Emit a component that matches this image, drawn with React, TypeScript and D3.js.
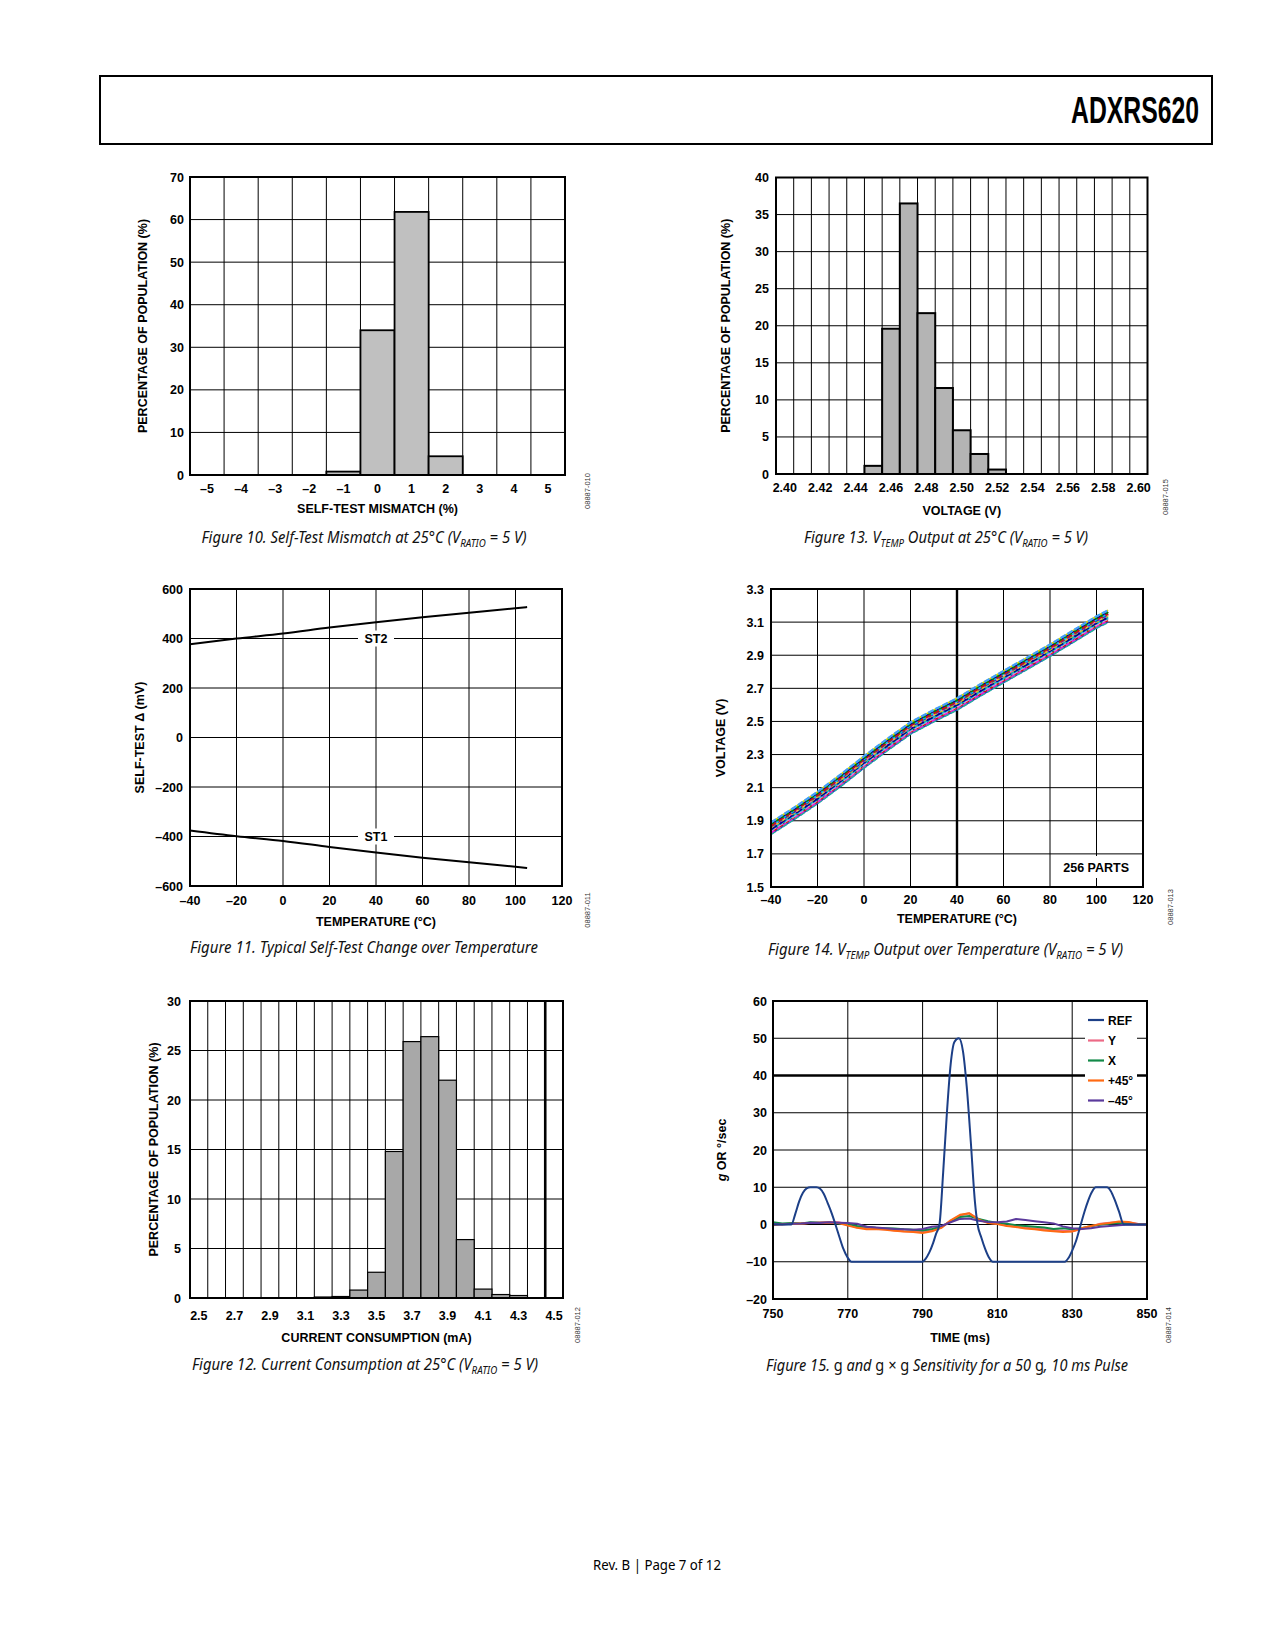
import * as d3 from 'd3'

const AX_FONT = "'Liberation Sans', Arial, Helvetica, sans-serif"
const CAP_FONT = "'Noto Sans', 'Open Sans', sans-serif"

// Figure 10: self-test mismatch histogram
const mismatchBins = [-5, -4, -3, -2, -1, 0, 1, 2, 3, 4, 5]
const mismatchPct = [0, 0, 0, 0, 0.8, 34, 61.8, 4.4, 0, 0, 0]
const mismatchYTicks = [0, 10, 20, 30, 40, 50, 60, 70]

// Figure 13: VTEMP output histogram
const vtempBins = [2.4, 2.41, 2.42, 2.43, 2.44, 2.45, 2.46, 2.47, 2.48, 2.49, 2.5, 2.51, 2.52, 2.53, 2.54, 2.55, 2.56, 2.57, 2.58, 2.59, 2.6]
const vtempPct = [0, 0, 0, 0, 0, 1.1, 19.6, 36.5, 21.7, 11.6, 5.9, 2.7, 0.6, 0, 0, 0, 0, 0, 0, 0, 0]
const vtempXTicks = [2.4, 2.42, 2.44, 2.46, 2.48, 2.5, 2.52, 2.54, 2.56, 2.58, 2.6]
const vtempYTicks = [0, 5, 10, 15, 20, 25, 30, 35, 40]

// Figure 12: current consumption histogram
const currentBins = [2.5, 2.6, 2.7, 2.8, 2.9, 3.0, 3.1, 3.2, 3.3, 3.4, 3.5, 3.6, 3.7, 3.8, 3.9, 4.0, 4.1, 4.2, 4.3, 4.4, 4.5]
const currentPct = [0, 0, 0, 0, 0, 0, 0, 0.1, 0.15, 0.8, 2.6, 14.8, 25.9, 26.4, 22.0, 5.9, 0.9, 0.35, 0.25, 0, 0]
const currentXTicks = [2.5, 2.7, 2.9, 3.1, 3.3, 3.5, 3.7, 3.9, 4.1, 4.3, 4.5]
const currentYTicks = [0, 5, 10, 15, 20, 25, 30]

// Figure 11: self-test change over temperature
const stTemps = [-40, -20, 0, 20, 40, 60, 80, 100, 105]
const st2 = [377, 400, 420, 444, 466, 486, 504, 522, 527]
const st1 = [-376, -399, -418, -442, -465, -486, -504, -522, -527]
const stXTicks = [-40, -20, 0, 20, 40, 60, 80, 100, 120]
const stYTicks = [-600, -400, -200, 0, 200, 400, 600]

// Figure 14: VTEMP over temperature (a handful of the 256 parts)
const partTemps = [-40, -30, -20, -10, 0, 10, 20, 30, 40, 50, 60, 70, 80, 90, 100, 105]
const partA = [1.89, 1.98, 2.075, 2.18, 2.29, 2.395, 2.495, 2.57, 2.64, 2.725, 2.805, 2.885, 2.965, 3.05, 3.135, 3.172]
const partB = [1.881, 1.969, 2.066, 2.171, 2.279, 2.386, 2.484, 2.561, 2.629, 2.716, 2.794, 2.876, 2.955, 3.041, 3.124, 3.161]
const partC = [1.869, 1.961, 2.054, 2.16, 2.271, 2.374, 2.476, 2.549, 2.621, 2.704, 2.786, 2.864, 2.946, 3.029, 3.116, 3.15]
const partD = [1.861, 1.949, 2.046, 2.149, 2.259, 2.366, 2.464, 2.541, 2.609, 2.696, 2.774, 2.856, 2.934, 3.021, 3.104, 3.141]
const partE = [1.849, 1.941, 2.034, 2.141, 2.251, 2.354, 2.456, 2.529, 2.601, 2.684, 2.766, 2.844, 2.926, 3.009, 3.096, 3.129]
const partF = [1.841, 1.929, 2.026, 2.129, 2.239, 2.346, 2.444, 2.521, 2.589, 2.676, 2.754, 2.836, 2.914, 3.001, 3.084, 3.121]
const partG = [1.829, 1.921, 2.014, 2.121, 2.231, 2.334, 2.436, 2.509, 2.581, 2.664, 2.746, 2.824, 2.906, 2.989, 3.076, 3.109]
const partH = [1.82, 1.91, 2.005, 2.11, 2.22, 2.325, 2.425, 2.5, 2.57, 2.655, 2.735, 2.815, 2.895, 2.98, 3.065, 3.1]
const partI = [1.866, 1.954, 2.051, 2.156, 2.264, 2.371, 2.469, 2.546, 2.616, 2.701, 2.779, 2.861, 2.941, 3.026, 3.109, 3.146]
const partJ = [1.846, 1.934, 2.031, 2.134, 2.246, 2.349, 2.451, 2.524, 2.596, 2.679, 2.761, 2.839, 2.921, 3.004, 3.091, 3.126]
const partColors = ['#1f3fc0', '#d01010', '#008000', '#40a0ff', '#20b0a0', '#e020e0', '#ff90c0', '#00c8e8', '#000090', '#d8d800']
const partDashes = ['5 2', '4 3', '6 2', '3 2', '7 3', '4 2', '5 3', '6 3', '3 3', '6 2']
const tempXTicks = [-40, -20, 0, 20, 40, 60, 80, 100, 120]
const voltYTicks = [1.5, 1.7, 1.9, 2.1, 2.3, 2.5, 2.7, 2.9, 3.1, 3.3]

// Figure 15: g and g x g sensitivity
const refTime = [750, 754.9, 756, 757, 758, 759, 760, 761.6, 762.6, 763.6, 764.6, 765.7, 766.7, 767.8, 768.8, 769.9, 771, 789.8, 790.8, 791.8, 792.8, 793.6, 794.5, 795.5, 796.5, 797.5, 798.5, 799.7, 800.8, 801.8, 802.9, 804, 804.7, 805.7, 806.7, 807.7, 808.8, 828, 829, 830, 831, 832.3, 833.3, 834.3, 835.3, 836.3, 839.3, 840.3, 841.3, 842.5, 843.8, 850]
const refG = [0, 0, 3, 6.2, 8.5, 9.7, 10, 10, 9.6, 8.2, 5.8, 3, 0, -3.5, -6.5, -8.8, -10, -10, -9.2, -7.5, -5, -2.5, 0, 14, 30, 43, 49, 50, 46.5, 37, 22, 6, 0, -3.5, -6.5, -8.8, -10, -10, -9, -7, -4.5, 0, 3.5, 6.5, 8.8, 10, 10, 9, 6.8, 3.5, 0, 0]
const sigTime = [750, 752.5, 755, 757.5, 760, 762.5, 765, 767.5, 770, 772.5, 775, 777.5, 780, 782.5, 785, 787.5, 790, 792.5, 795, 797.5, 800, 802.5, 805, 807.5, 810, 812.5, 815, 817.5, 820, 822.5, 825, 827.5, 830, 832.5, 835, 837.5, 840, 842.5, 845, 847.5, 850]
const yAxisG = [0.2, 0.1, 0.3, 0.2, 0.5, 0.6, 0.7, 0.6, 0, -0.8, -1.0, -1.2, -1.3, -1.6, -1.8, -1.9, -2.0, -1.6, -0.8, 1.0, 2.4, 3.0, 1.4, 0.5, 0.2, -0.3, -0.6, -0.9, -1.1, -1.3, -1.5, -1.7, -1.8, -1.2, -0.5, 0.2, 0.5, 0.7, 0.6, 0.2, 0.0]
const xAxisG = [0.6, 0.3, 0.4, 0.3, 0.6, 0.5, 0.5, 0.3, 0.2, -0.4, -0.6, -0.9, -1.0, -1.1, -1.3, -1.4, -1.6, -1.2, -0.6, 0.8, 2.0, 2.3, 1.5, 0.9, 0.4, 0.2, -0.2, -0.4, -0.6, -0.8, -1.2, -1.0, -1.3, -1.0, -0.4, -0.1, 0.2, 0.5, 0.3, 0.1, 0.0]
const plus45G = [-0.2, 0.1, 0.2, 0.3, 0.4, 0.4, 0.5, 0.4, -0.3, -0.9, -1.3, -1.2, -1.4, -1.7, -1.9, -2.0, -2.3, -1.8, -0.9, 1.1, 2.6, 3.0, 1.3, 0.4, 0.1, -0.4, -0.7, -1.1, -1.3, -1.6, -1.8, -2.0, -1.9, -1.0, -0.4, 0.1, 0.4, 0.8, 0.7, 0.1, 0.0]
const minus45G = [0.1, 0.0, 0.2, 0.3, 0.5, 0.4, 0.6, 0.5, 0.4, 0.2, -0.6, -0.8, -1.0, -1.2, -1.3, -1.4, -1.2, -0.6, -0.4, 0.6, 1.5, 1.6, 1.0, 0.7, 0.6, 0.8, 1.5, 1.2, 0.9, 0.6, 0.3, -0.5, -1.0, -1.2, -1.0, -0.6, -0.4, -0.2, 0.0, -0.1, 0.0]
const legendNames = ['REF', 'Y', 'X', '+45°', '–45°']
const legendColors = ['#1c3f87', '#ec6a86', '#138a48', '#ff6a13', '#5b3a9c']
const timeXTicks = [750, 770, 790, 810, 830, 850]
const gYTicks = [-20, -10, 0, 10, 20, 30, 40, 50, 60]

type Box = { l: number; r: number; t: number; b: number }

const TICK = 12.5
const TITLE = 12.5
const neg = (v: number) => (v < 0 ? '–' + Math.abs(v) : String(v))

function Frame({ box, xTitle, yTitle, xTitleY, yTitleX, code, codeX, codeY }: {
  box: Box; xTitle: React.ReactNode; yTitle: React.ReactNode; xTitleY: number; yTitleX: number
  code: string; codeX: number; codeY: number
}) {
  const cy = (box.t + box.b) / 2
  return (
    <g fontFamily={AX_FONT}>
      <rect x={box.l} y={box.t} width={box.r - box.l} height={box.b - box.t} fill="none" stroke="#000" strokeWidth={2} />
      <text x={(box.l + box.r) / 2} y={xTitleY} textAnchor="middle" fontSize={TITLE} fontWeight="bold">{xTitle}</text>
      <text transform={`translate(${yTitleX},${cy}) rotate(-90)`} textAnchor="middle" dominantBaseline="central" fontSize={TITLE} fontWeight="bold">{yTitle}</text>
      <text transform={`translate(${codeX},${codeY}) rotate(-90)`} textAnchor="middle" dominantBaseline="central" fontSize={7.5} fill="#333">{code}</text>
    </g>
  )
}

function TickLabels({ box, x, y, xTicks, yTicks, fx, fy, xDy, yGap }: {
  box: Box; x: (v: number) => number; y: (v: number) => number; xTicks: number[]; yTicks: number[]
  fx: (v: number) => string; fy: (v: number) => string; xDy: number; yGap: number
}) {
  return (
    <g fontFamily={AX_FONT} fontSize={TICK} fontWeight="bold">
      {xTicks.map(v => <text key={'x' + v} x={x(v)} y={box.b + xDy} textAnchor="middle">{fx(v)}</text>)}
      {yTicks.map(v => <text key={'y' + v} x={box.l - yGap} y={y(v) + 4.5} textAnchor="end">{fy(v)}</text>)}
    </g>
  )
}

function Histogram({ box, bins, values, binW, xTicks, yTicks, fx, fill, barStroke, thickEdge, xDy, yGap }: {
  box: Box; bins: number[]; values: number[]; binW: number; xTicks: number[]; yTicks: number[]
  fx: (v: number) => string; fill: string; barStroke: number; thickEdge?: number; xDy: number; yGap: number
}) {
  const x = d3.scaleLinear().domain([bins[0] - binW / 2, bins[bins.length - 1] + binW / 2]).range([box.l, box.r])
  const y = d3.scaleLinear().domain([yTicks[0], yTicks[yTicks.length - 1]]).range([box.b, box.t])
  const edges = bins.slice(0, -1).map(b => b + binW / 2)
  return (
    <g>
      {yTicks.slice(1, -1).map(v => (
        <line key={'h' + v} x1={box.l} x2={box.r} y1={y(v)} y2={y(v)} stroke="#000" strokeWidth={1} />
      ))}
      {edges.map((e, i) => (
        <line key={'v' + i} x1={x(e)} x2={x(e)} y1={box.t} y2={box.b} stroke="#000"
          strokeWidth={thickEdge !== undefined && Math.abs(e - thickEdge) < 1e-6 ? 2.6 : 1} />
      ))}
      {bins.map((b, i) =>
        values[i] > 0 ? (
          <rect key={'b' + i} x={x(b - binW / 2)} y={y(values[i])} width={x(b + binW / 2) - x(b - binW / 2)}
            height={y(0) - y(values[i])} fill={fill} stroke="#000" strokeWidth={barStroke} />
        ) : null
      )}
      <TickLabels box={box} x={x} y={y} xTicks={xTicks} yTicks={yTicks} fx={fx} fy={String} xDy={xDy} yGap={yGap} />
    </g>
  )
}

function SelfTestChart({ box }: { box: Box }) {
  const x = d3.scaleLinear().domain([-40, 120]).range([box.l, box.r])
  const y = d3.scaleLinear().domain([-600, 600]).range([box.b, box.t])
  const line = d3.line<number>().x((_, i) => x(stTemps[i])).y(d => y(d)).curve(d3.curveMonotoneX)
  const tags: [string, number][] = [['ST2', 400], ['ST1', -400]]
  return (
    <g>
      {stYTicks.slice(1, -1).map(v => <line key={'h' + v} x1={box.l} x2={box.r} y1={y(v)} y2={y(v)} stroke="#000" />)}
      {stXTicks.slice(1, -1).map(v => <line key={'v' + v} x1={x(v)} x2={x(v)} y1={box.t} y2={box.b} stroke="#000" />)}
      {tags.map(([t, v]) => (
        <g key={t}>
          <rect x={x(40) - 18} y={y(v) - 8} width={36} height={16} fill="#fff" />
          <text x={x(40)} y={y(v) + 4.5} textAnchor="middle" fontFamily={AX_FONT} fontSize={12.5} fontWeight="bold">{t}</text>
        </g>
      ))}
      <path d={line(st2) ?? ''} fill="none" stroke="#000" strokeWidth={2} />
      <path d={line(st1) ?? ''} fill="none" stroke="#000" strokeWidth={2} />
      <TickLabels box={box} x={x} y={y} xTicks={stXTicks} yTicks={stYTicks} fx={neg} fy={neg} xDy={18.5} yGap={7} />
    </g>
  )
}

function VtempChart({ box }: { box: Box }) {
  const x = d3.scaleLinear().domain([-40, 120]).range([box.l, box.r])
  const y = d3.scaleLinear().domain([1.5, 3.3]).range([box.b, box.t])
  const line = d3.line<number>().x((_, i) => x(partTemps[i])).y(d => y(d))
  const parts = [partH, partG, partF, partJ, partE, partD, partI, partC, partB, partA]
  return (
    <g>
      {voltYTicks.slice(1, -1).map(v => <line key={'h' + v} x1={box.l} x2={box.r} y1={y(v)} y2={y(v)} stroke="#000" />)}
      {tempXTicks.slice(1, -1).map(v => (
        <line key={'v' + v} x1={x(v)} x2={x(v)} y1={box.t} y2={box.b} stroke="#000" strokeWidth={v === 40 ? 2.4 : 1} />
      ))}
      <rect x={box.r - 86} y={box.b - 31} width={80} height={22} fill="#fff" />
      <text x={box.r - 14} y={box.b - 15} textAnchor="end" fontFamily={AX_FONT} fontSize={12.5} fontWeight="bold">256 PARTS</text>
      {parts.map((p, i) => (
        <g key={i}>
          <path d={line(p) ?? ''} fill="none" stroke={partColors[i]} strokeWidth={1.6} />
          <path d={line(p) ?? ''} fill="none" stroke={partColors[(i + 4) % partColors.length]} strokeWidth={2.2} strokeDasharray={partDashes[i]} />
        </g>
      ))}
      <TickLabels box={box} x={x} y={y} xTicks={tempXTicks} yTicks={voltYTicks} fx={neg} fy={v => v.toFixed(1)} xDy={16.5} yGap={7} />
    </g>
  )
}

function PulseChart({ box }: { box: Box }) {
  const x = d3.scaleLinear().domain([750, 850]).range([box.l, box.r])
  const y = d3.scaleLinear().domain([-20, 60]).range([box.b, box.t])
  const sig = d3.line<number>().x((_, i) => x(sigTime[i])).y(d => y(d))
  const ref = d3.line<number>().x((_, i) => x(refTime[i])).y(d => y(d)).curve(d3.curveMonotoneX)
  const sigs = [yAxisG, xAxisG, plus45G, minus45G]
  const lx = 1088
  const rows = [1020, 1040.5, 1060.5, 1080.5, 1100.5]
  return (
    <g>
      {gYTicks.slice(1, -1).map(v => (
        <line key={'h' + v} x1={box.l} x2={box.r} y1={y(v)} y2={y(v)} stroke="#000" strokeWidth={v === 40 ? 2.6 : 1} />
      ))}
      {timeXTicks.slice(1, -1).map(v => <line key={'v' + v} x1={x(v)} x2={x(v)} y1={box.t} y2={box.b} stroke="#000" />)}
      {sigs.map((s, i) => (
        <path key={i} d={sig(s) ?? ''} fill="none" stroke={legendColors[i + 1]} strokeWidth={2} strokeLinejoin="round" />
      ))}
      <path d={ref(refG) ?? ''} fill="none" stroke={legendColors[0]} strokeWidth={2} />
      <rect x={1085} y={1008} width={52} height={102} fill="#fff" />
      {legendNames.map((n, i) => (
        <g key={n}>
          <line x1={lx} x2={lx + 16} y1={rows[i]} y2={rows[i]} stroke={legendColors[i]} strokeWidth={2.2} />
          <text x={lx + 20} y={rows[i] + 4.5} fontFamily={AX_FONT} fontSize={12} fontWeight="bold">{n}</text>
        </g>
      ))}
      <TickLabels box={box} x={x} y={y} xTicks={timeXTicks} yTicks={gYTicks} fx={String} fy={neg} xDy={18.5} yGap={6} />
    </g>
  )
}

type Part = { t: string; sub?: boolean; up?: boolean }

function Caption({ cx, y, w, parts }: { cx: number; y: number; w: number; parts: Part[] }) {
  return (
    <text x={cx} y={y} textAnchor="middle" fontFamily={CAP_FONT} fontStyle="italic" fontSize={16}
      textLength={w} lengthAdjust="spacingAndGlyphs" fill="#111">
      {parts.map((p, i) => {
        const prevSub = i > 0 && parts[i - 1].sub
        const dy = p.sub ? 3.5 : prevSub ? -3.5 : 0
        return (
          <tspan key={i} dy={dy} fontSize={p.sub ? 10.5 : 16} fontStyle={p.up ? 'normal' : 'italic'}>{p.t}</tspan>
        )
      })}
    </text>
  )
}

const box10: Box = { l: 190, r: 565, t: 177, b: 475 }
const box13: Box = { l: 776, r: 1147.5, t: 177.5, b: 474 }
const box11: Box = { l: 190, r: 562, t: 589, b: 886 }
const box14: Box = { l: 771, r: 1143, t: 589, b: 887 }
const box12: Box = { l: 190, r: 563, t: 1001, b: 1298 }
const box15: Box = { l: 773, r: 1147, t: 1001, b: 1299 }

export default function App() {
  return (
    <div style={{ position: 'absolute', left: 0, top: 0, background: '#fff' }}>
      <svg width={1275} height={1650} style={{ display: 'block' }}>
        <rect width={1275} height={1650} fill="#fff" />
        <rect x={100} y={76} width={1112} height={68} fill="none" stroke="#000" strokeWidth={2} />
        <text x={1199} y={123} textAnchor="end" fontFamily="'Liberation Sans Narrow', 'Liberation Sans', sans-serif"
          fontWeight="bold" fontSize={37} textLength={128} lengthAdjust="spacingAndGlyphs">ADXRS620</text>

        <Histogram box={box10} bins={mismatchBins} values={mismatchPct} binW={1} xTicks={mismatchBins}
          yTicks={mismatchYTicks} fx={neg} fill="#c0c0c0" barStroke={1.8} xDy={17.5} yGap={6} />
        <Frame box={box10} xTitle="SELF-TEST MISMATCH (%)" yTitle="PERCENTAGE OF POPULATION (%)" xTitleY={513}
          yTitleX={143} code="08887-010" codeX={587} codeY={491} />
        <Caption cx={364} y={543} w={325} parts={[{ t: 'Figure 10. Self-Test Mismatch at 25°C (V' }, { t: 'RATIO', sub: true }, { t: ' = 5 V)' }]} />

        <Histogram box={box13} bins={vtempBins} values={vtempPct} binW={0.01} xTicks={vtempXTicks}
          yTicks={vtempYTicks} fx={v => v.toFixed(2)} fill="#b4b4b4" barStroke={2} xDy={17.5} yGap={7} />
        <Frame box={box13} xTitle="VOLTAGE (V)" yTitle="PERCENTAGE OF POPULATION (%)" xTitleY={515}
          yTitleX={726} code="08887-015" codeX={1165} codeY={497} />
        <Caption cx={946} y={543} w={284} parts={[{ t: 'Figure 13. V' }, { t: 'TEMP', sub: true }, { t: ' Output at 25°C (V' }, { t: 'RATIO', sub: true }, { t: ' = 5 V)' }]} />

        <SelfTestChart box={box11} />
        <Frame box={box11} xTitle="TEMPERATURE (°C)" yTitle="SELF-TEST Δ (mV)" xTitleY={926}
          yTitleX={140} code="08887-011" codeX={587} codeY={910} />
        <Caption cx={364} y={953} w={348} parts={[{ t: 'Figure 11. Typical Self-Test Change over Temperature' }]} />

        <VtempChart box={box14} />
        <Frame box={box14} xTitle="TEMPERATURE (°C)" yTitle="VOLTAGE (V)" xTitleY={923}
          yTitleX={721} code="08887-013" codeX={1170} codeY={907} />
        <Caption cx={945.5} y={955} w={355} parts={[{ t: 'Figure 14. V' }, { t: 'TEMP', sub: true }, { t: ' Output over Temperature (V' }, { t: 'RATIO', sub: true }, { t: ' = 5 V)' }]} />

        <Histogram box={box12} bins={currentBins} values={currentPct} binW={0.1} xTicks={currentXTicks}
          yTicks={currentYTicks} fx={v => v.toFixed(1)} fill="#a8a8a8" barStroke={1.2} thickEdge={4.45} xDy={21.5} yGap={9} />
        <Frame box={box12} xTitle="CURRENT CONSUMPTION (mA)" yTitle="PERCENTAGE OF POPULATION (%)" xTitleY={1342}
          yTitleX={154} code="08887-012" codeX={577} codeY={1325} />
        <Caption cx={365} y={1370} w={346} parts={[{ t: 'Figure 12. Current Consumption at 25°C (V' }, { t: 'RATIO', sub: true }, { t: ' = 5 V)' }]} />

        <PulseChart box={box15} />
        <Frame box={box15} xTitle="TIME (ms)"
          yTitle={<><tspan fontStyle="italic">g</tspan> OR °/sec</>} xTitleY={1342}
          yTitleX={722} code="08887-014" codeX={1168} codeY={1325} />
        <Caption cx={947} y={1371} w={362} parts={[
          { t: 'Figure 15. ' }, { t: 'g', up: true }, { t: ' and ' }, { t: 'g', up: true }, { t: ' × ' }, { t: 'g', up: true },
          { t: ' Sensitivity for a 50 ' }, { t: 'g', up: true }, { t: ', 10 ms Pulse' },
        ]} />

        <text x={657} y={1570} textAnchor="middle" fontFamily={CAP_FONT} fontSize={13.5} textLength={128}
          lengthAdjust="spacingAndGlyphs">Rev. B | Page 7 of 12</text>
      </svg>
    </div>
  )
}
